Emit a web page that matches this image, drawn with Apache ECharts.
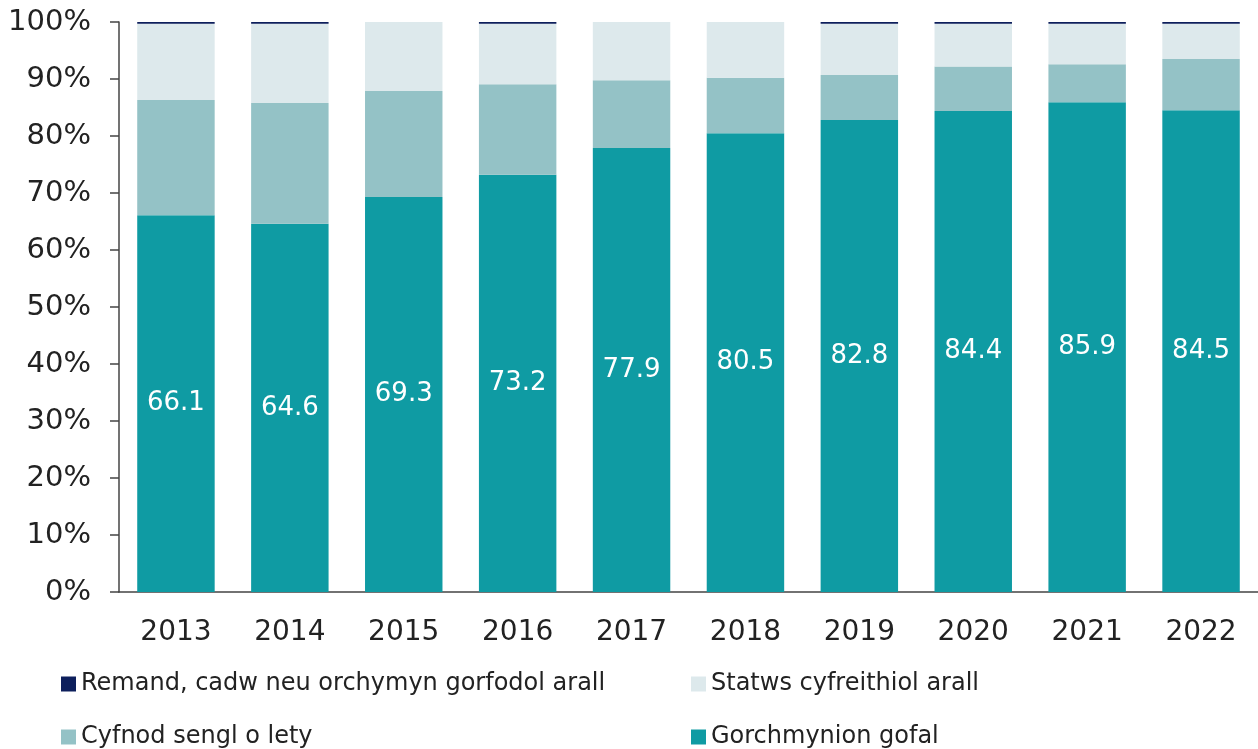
<!DOCTYPE html>
<html>
<head>
<meta charset="utf-8">
<script src="https://cdn.jsdelivr.net/npm/echarts@6/dist/echarts.min.js"></script>
<style>
  html, body { margin: 0; padding: 0; background: #fff; }
  #main { width: 1258px; height: 749px; }
</style>
</head>
<body>
<div id="main"></div>
<script>
var years = ['2013', '2014', '2015', '2016', '2017', '2018', '2019', '2020', '2021', '2022']
var gorchmynion = [66.1, 64.6, 69.3, 73.2, 77.9, 80.5, 82.8, 84.4, 85.9, 84.5]
var cyfnod = [20.2, 21.2, 18.6, 15.9, 11.9, 9.7, 7.9, 7.8, 6.7, 9.0]
var statws = [13.4, 13.9, 12.1, 10.6, 10.2, 9.8, 9.0, 7.5, 7.1, 6.2]
var remand = [0.3, 0.3, 0, 0.3, 0, 0, 0.3, 0.3, 0.3, 0.3]

var names = {
  remand: 'Remand, cadw neu orchymyn gorfodol arall',
  statws: 'Statws cyfreithiol arall',
  cyfnod: 'Cyfnod sengl o lety',
  gofal: 'Gorchmynion gofal'
}

var font = 'DejaVu Sans'
var chart = echarts.init(document.getElementById('main'))

// un legend i bob eitem er mwyn eu gosod mewn dwy golofn
function legendItem(name, left, top) {
  return {
    data: [name],
    left: left,
    top: top,
    itemWidth: 15,
    itemHeight: 15,
    itemGap: 6,
    icon: 'rect',
    selectedMode: false,
    textStyle: { fontFamily: font, fontSize: 24, color: '#222' }
  }
}

var option = {
  animation: false,
  textStyle: { fontFamily: font },
  grid: { left: 119, right: 0, top: 22, bottom: 157, containLabel: false },
  legend: [
    legendItem(names.remand, 56, 667),
    legendItem(names.statws, 686, 667),
    legendItem(names.cyfnod, 56, 720),
    legendItem(names.gofal, 686, 720)
  ],
  xAxis: {
    type: 'category',
    data: years,
    axisLine: { lineStyle: { color: '#444', width: 1.5 } },
    axisTick: { show: false },
    axisLabel: { color: '#222', fontSize: 28, margin: 27, fontFamily: font }
  },
  yAxis: {
    type: 'value',
    min: 0,
    max: 100,
    interval: 10,
    splitLine: { show: false },
    axisLine: { show: true, lineStyle: { color: '#444', width: 1.5 } },
    axisTick: { show: true, length: 9, lineStyle: { color: '#444', width: 1.5 } },
    axisLabel: { formatter: '{value}%', color: '#222', fontSize: 29, margin: 28, fontFamily: font }
  },
  series: [
    {
      name: names.gofal,
      type: 'bar',
      stack: 'cyfanswm',
      barWidth: '68%',
      data: gorchmynion,
      itemStyle: { color: '#0f9ba3' },
      label: {
        show: true,
        position: 'inside',
        color: '#fff',
        fontSize: 26,
        fontFamily: font,
        formatter: function (p) { return p.value.toFixed(1) }
      }
    },
    {
      name: names.cyfnod,
      type: 'bar',
      stack: 'cyfanswm',
      data: cyfnod,
      itemStyle: { color: '#94c2c6' }
    },
    {
      name: names.statws,
      type: 'bar',
      stack: 'cyfanswm',
      data: statws,
      itemStyle: { color: '#dde9ec' }
    },
    {
      name: names.remand,
      type: 'bar',
      stack: 'cyfanswm',
      data: remand,
      itemStyle: { color: '#0d1f5c' }
    }
  ]
}

chart.setOption(option)
</script>
</body>
</html>
